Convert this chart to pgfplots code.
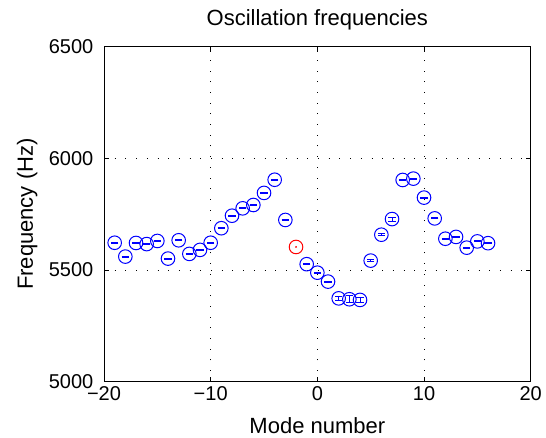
\documentclass[border=0pt]{standalone}
\usepackage{fontspec}
\setmainfont{Liberation Sans}
\usepackage{pgfplots}
\pgfplotsset{compat=1.18}

\begin{document}
\fontsize{20}{24}\selectfont
\begin{tikzpicture}
\useasboundingbox (0,0) rectangle (546pt,438pt);
\begin{axis}[
  scale only axis, width=426.7pt, height=335.1pt,
  at={(104pt,56.3pt)}, anchor=south west,
  xmin=-20, xmax=20, ymin=5000, ymax=6500,
  xtick={-20,-10,0,10,20}, xticklabels={−20,−10,0,10,20},
  ytick={5000,5500,6000,6500}, yticklabels={5000,5500,6000,6500},
  tick pos=both, tick align=inside, major tick length=5pt,
  axis line style={black, line width=1pt},
  tick style={black, line width=0.8pt},
  grid=major,
  major grid style={black, line width=0.8pt, dash pattern=on 0.8pt off 9.9pt},
  xticklabel style={anchor=north, inner sep=0pt, yshift=-5pt},
  yticklabel style={anchor=east, inner sep=0pt, xshift=-10.5pt},
  title={Oscillation frequencies},
  title style={font=\fontsize{22}{26}\selectfont, at={(axis description cs:0.5,1)}, anchor=base, yshift=15pt, inner sep=0pt},
  xlabel={Mode number},
  xlabel style={font=\fontsize{22}{26}\selectfont, at={(axis description cs:0.5,0)}, anchor=base, yshift=-52.3pt, inner sep=0pt},
  ylabel={Frequency (Hz)},
  ylabel style={font=\fontsize{22}{26}\selectfont, at={(axis description cs:0,0.5)}, anchor=base, yshift=71pt, inner sep=0pt},
]
% measured modes with error bars
\addplot[only marks, mark=o, color=blue, mark size=6.8pt, line width=1pt,
  error bars/.cd, y dir=both, y explicit, error mark=-,
  error mark options={rotate=90, blue, mark size=3.6pt, line width=1pt},
  error bar style={blue, line width=1pt}]
coordinates {
(-19,5622) +- (0,2)
(-18,5560) +- (0,2)
(-17,5621) +- (0,2)
(-16,5616) +- (0,2)
(-15,5630) +- (0,2)
(-14,5551) +- (0,2)
(-13,5633) +- (0,2)
(-12,5572) +- (0,2)
(-11,5590) +- (0,2)
(-10,5622) +- (0,2)
(-9,5687) +- (0,2)
(-8,5743) +- (0,2)
(-7,5776) +- (0,2)
(-6,5791) +- (0,2)
(-5,5845) +- (0,2)
(-4,5904) +- (0,2)
(-3,5724) +- (0,2)
(-1,5526) +- (0,2)
(0,5488) +- (0,2)
(1,5448) +- (0,2)
(2,5373) +- (0,10)
(3,5369) +- (0,16)
(4,5366) +- (0,12)
(5,5542) +- (0,6)
(6,5658) +- (0,4)
(7,5728) +- (0,9)
(8,5903) +- (0,2)
(9,5909) +- (0,2)
(10,5824) +- (0,2)
(11,5731) +- (0,2)
(12,5640) +- (0,2)
(13,5648) +- (0,2)
(14,5600) +- (0,2)
(15,5628) +- (0,2)
(16,5620) +- (0,2)
};
% single red mode
\addplot[only marks, mark=o, color=red, mark size=6.8pt, line width=1pt]
coordinates {(-2,5603)};
\addplot[only marks, mark=*, color=red, mark size=0.7pt]
coordinates {(-2,5603)};
\end{axis}
\end{tikzpicture}
\end{document}
